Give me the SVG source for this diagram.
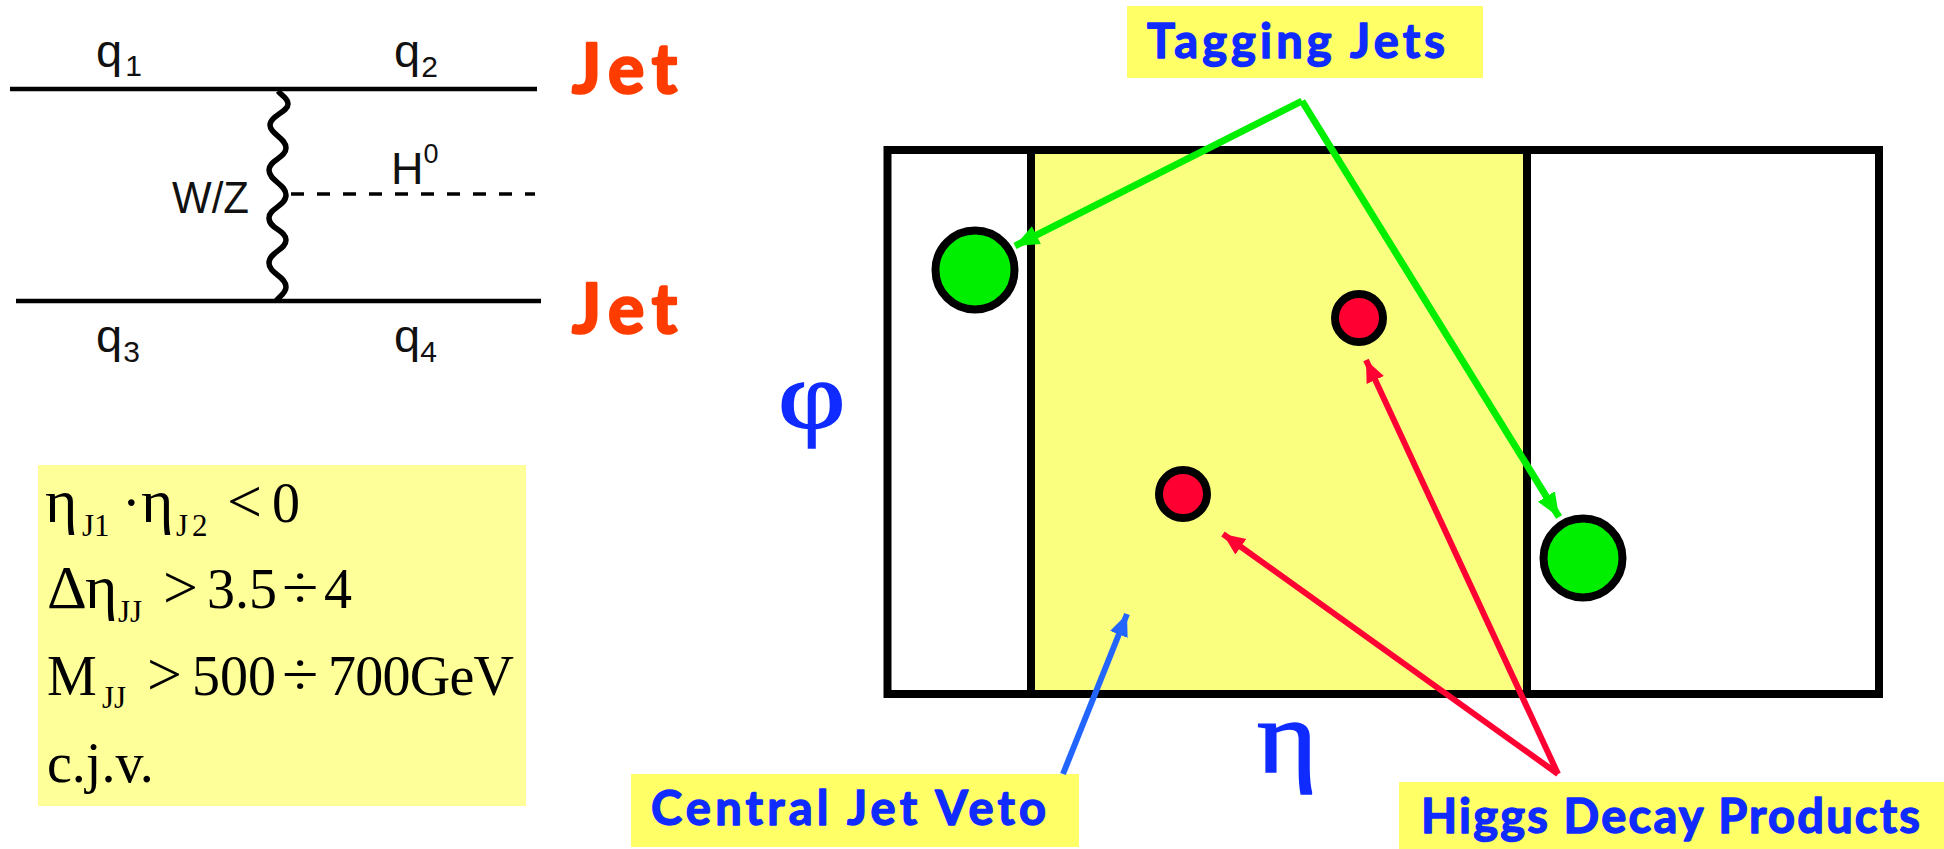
<svg xmlns="http://www.w3.org/2000/svg" width="1944" height="849" viewBox="0 0 1944 849">
<defs>
<marker id="ag" markerUnits="userSpaceOnUse" markerWidth="26" markerHeight="24" refX="24" refY="12" orient="auto"><path d="M0 2L24 12L0 22z" fill="#00ee00"/></marker>
<marker id="ar" markerUnits="userSpaceOnUse" markerWidth="24" markerHeight="22" refX="22" refY="11" orient="auto"><path d="M0 1.5L22 11L0 20.5z" fill="#ff0033"/></marker>
<marker id="ab" markerUnits="userSpaceOnUse" markerWidth="24" markerHeight="22" refX="22" refY="11" orient="auto"><path d="M0 1.5L22 11L0 20.5z" fill="#2266ff"/></marker>
</defs>
<style>
.f{font-family:"Liberation Sans",Arial,sans-serif;fill:#111}
.s{font-family:"Liberation Serif","Times New Roman",serif;fill:#000;font-size:56px}
.sub{font-size:31px}
.gk{font-size:62px}
.op{font-size:62px}
.c{font-family:"Lato","Open Sans",sans-serif;font-weight:700;stroke-linejoin:round;paint-order:stroke}
.jet{fill:#ff3c00;stroke:#ff3c00;stroke-width:2.5px;font-size:68px}
.lab{fill:#0f2bff;stroke:#0f2bff;stroke-width:1.4px;font-size:47px}
.fr{fill:none;stroke:#000;stroke-width:8}
.p{fill:none;stroke:#000}
.g{fill:#00ee00;stroke:#000;stroke-width:8}
.r{fill:#ff0033;stroke:#000;stroke-width:8}
.gr{fill:#ffff66}
.sym{font-family:"Liberation Serif",serif;fill:#0f2bff;stroke:#0f2bff;stroke-width:1.5px}
</style>
<rect width="1944" height="849" fill="#fff"/>
<g id="feynman">
<path class="p" stroke-width="4.5" d="M10 89H537M16 301H541"/>
<path class="p" stroke-width="3.5" stroke-dasharray="13 13" d="M291 194H535"/>
<path class="p" stroke-width="5.5" d="M278 91C282 96 288 98 288 104C288 112 270 116 270 125C270 134 286 138 286 148C286 158 269 160 269 170C269 181 286 184 286 195C286 206 269 208 269 218C269 229 286 230 286 240C286 250 269 252 269 263C269 274 286 276 286 287C286 293 280 296 276 301"/>
<text class="f" font-size="47" x="96" y="67">q<tspan font-size="30" dx="3" dy="9">1</tspan></text>
<text class="f" font-size="47" x="394" y="67">q<tspan font-size="30" dx="1" dy="10">2</tspan></text>
<text class="f" font-size="47" x="96" y="352">q<tspan font-size="30" dx="1" dy="10">3</tspan></text>
<text class="f" font-size="47" x="394" y="352">q<tspan font-size="30" dx="0" dy="10">4</tspan></text>
<text class="f" font-size="45" x="391" y="184">H<tspan font-size="27" dy="-21">0</tspan></text>
<text class="f" font-size="45" x="172" y="213" textLength="77" lengthAdjust="spacingAndGlyphs">W/Z</text>
<text class="c jet" x="572" y="93" textLength="105">Jet</text>
<text class="c jet" x="572" y="333" textLength="105">Jet</text>
</g>
<g id="cuts">
<rect x="38" y="465" width="488" height="341" fill="#ffff99"/>
<text class="s" y="522"><tspan class="gk" x="45">η</tspan><tspan class="sub" x="82" dy="14">J1</tspan><tspan x="122" dy="-14">·</tspan><tspan class="gk" x="141">η</tspan><tspan class="sub" x="176" dy="14">J</tspan><tspan class="sub" x="192">2</tspan><tspan class="op" x="227" dy="-14">&lt;</tspan><tspan x="272">0</tspan></text>
<text class="s" y="608"><tspan class="gk" x="47">Δ</tspan><tspan class="gk" x="85">η</tspan><tspan class="sub" x="118" dy="14">JJ</tspan><tspan class="op" x="163" dy="-14">&gt;</tspan><tspan x="207">3.5</tspan><tspan x="324">4</tspan></text>
<text class="s op" transform="translate(282 608) scale(1.07 1)">÷</text>
<text class="s" y="695"><tspan x="47">M</tspan><tspan class="sub" x="102" dy="13">JJ</tspan><tspan class="op" x="147" dy="-13">&gt;</tspan><tspan x="192">500</tspan><tspan x="328" textLength="186">700GeV</tspan></text>
<text class="s op" transform="translate(282 695) scale(1.07 1)">÷</text>
<text class="s" x="47" y="782">c.j.v.</text>
</g>
<g id="veto-region"><rect x="1031" y="150" width="496" height="544" fill="#faff80"/></g>
<g id="frame">
<rect class="fr" x="887.5" y="150" width="991.5" height="544"/>
<path class="fr" d="M1031 150V694M1527 150V694"/>
</g>
<g id="jet1"><circle class="g" cx="975" cy="270" r="39.5"/></g>
<g id="jet2"><circle class="g" cx="1583" cy="558" r="39.5"/></g>
<g id="higgs1"><circle class="r" cx="1183" cy="494" r="24"/></g>
<g id="higgs2"><circle class="r" cx="1359" cy="318" r="24"/></g>
<g id="phi"><text class="sym" transform="translate(778 428) scale(1.33 1.07)" font-size="88">φ</text></g>
<g id="eta"><text class="sym" transform="translate(1257 772) scale(1.2 1.07)" font-size="96">η</text></g>
<g id="tagging"><rect class="gr" x="1127" y="6" width="356" height="72"/><text class="c lab" x="1147" y="58" textLength="298">Tagging Jets</text></g>
<g id="central"><rect class="gr" x="631" y="774" width="448" height="73"/><text class="c lab" x="651" y="825" textLength="395">Central Jet Veto</text></g>
<g id="products"><rect class="gr" x="1399" y="782" width="545" height="67"/><text class="c lab" x="1421" y="833" textLength="499">Higgs Decay Products</text></g>
<g id="connectors" fill="none">
<path d="M1302 101L1015 246" stroke="#00ee00" stroke-width="7" marker-end="url(#ag)"/>
<path d="M1302 101L1559 517" stroke="#00ee00" stroke-width="7" marker-end="url(#ag)"/>
<path d="M1558 774L1223 534" stroke="#ff0033" stroke-width="6" marker-end="url(#ar)"/>
<path d="M1558 774L1366 360" stroke="#ff0033" stroke-width="6" marker-end="url(#ar)"/>
<path d="M1063 774L1127 614" stroke="#2266ff" stroke-width="6" marker-end="url(#ab)"/>
</g>
</svg>
